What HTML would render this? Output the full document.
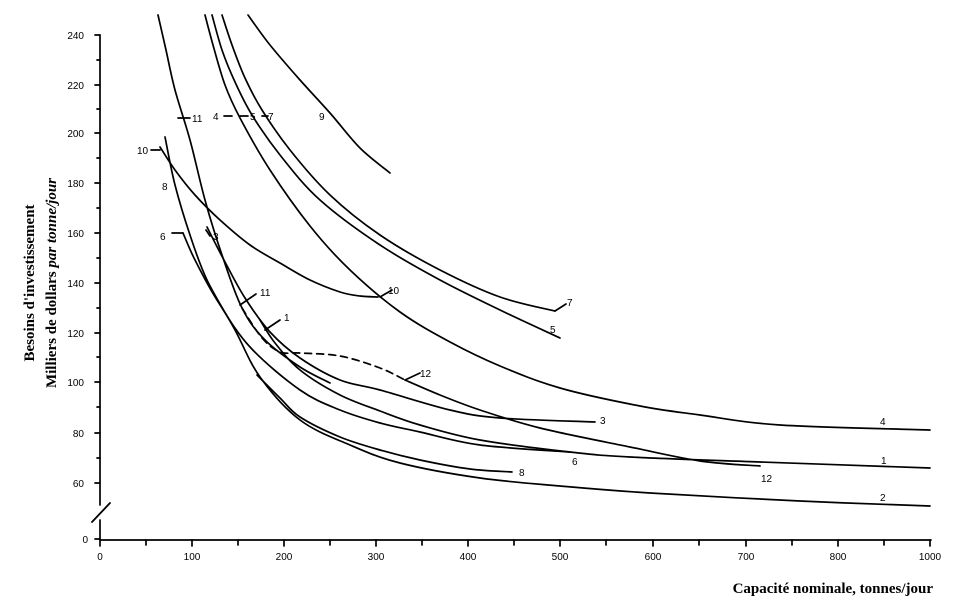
<!DOCTYPE html>
<html><head><meta charset="utf-8"><style>
html,body{margin:0;padding:0;background:#fff;}
svg{display:block;}
text{font-family:"Liberation Sans",sans-serif;font-size:10px;fill:#000;}
.t{font-family:"Liberation Serif",serif;font-weight:bold;font-size:15px;}
</style></head><body>
<svg id="c" width="960" height="610" viewBox="0 0 960 610" xmlns="http://www.w3.org/2000/svg">
<g fill="none" stroke="#000" stroke-width="1.7" stroke-linejoin="round" stroke-linecap="round">
<path d="M100,35 V505 M100,520 V540 H931"/>
<path d="M92,522 L110,503" stroke-width="1.8"/>
<path d="M95,35H100M95,85H100M95,133H100M95,183H100M95,233H100M95,283H100M95,333H100M95,382H100M95,433H100M95,483H100M95,539H100M97,60H100M97,109H100M97,158H100M97,208H100M97,258H100M97,308H100M97,357H100M97,407H100M97,458H100"/>
<path d="M100,540V546M146,540V545M192,540V546M238,540V545M284,540V546M330,540V545M376,540V546M422,540V545M468,540V546M514,540V545M560,540V546M606,540V545M653,540V546M699,540V545M746,540V546M792,540V545M838,540V546M884,540V545M930,540V546"/>
<polyline class="s" points="248,15 270,45 300,80 330,113 360,148 390,173"/>
<polyline class="s" points="222,15 232,45 245,78 262,110 290,150 330,195 380,235 440,270 500,297 555,311"/>
<polyline class="s" points="212,15 222,50 235,82 252,115 280,155 320,200 380,245 440,280 500,310 560,338"/>
<polyline class="s" points="205,15 213,45 225,85 240,118 270,170 310,226 350,270 400,312 450,342 500,366 560,388 640,406 700,415 780,425 930,430"/>
<polyline class="s" points="160,147 175,170 195,195 220,220 250,245 280,263 310,280 340,292 360,296 378,297"/>
<polyline class="s" points="158,15 166,50 175,90 190,140 205,200 222,255 242,308 265,340 300,367 330,383"/>
<polyline class="s" points="242,308 262,338 280,352 300,353 340,356 380,368 405,380" stroke-dasharray="7,5"/>
<polyline class="s" points="405,380 440,395 480,410 540,428 630,447 700,461 760,466"/>
<polyline class="s" points="207,227 225,262 245,298 270,332 300,358 340,380 380,390 450,410 500,418 595,422"/>
<polyline class="s" points="260,320 275,343 300,370 340,395 380,411 420,425 480,440 570,452 630,457 760,462 930,468"/>
<polyline class="s" points="183,233 195,260 217,300 250,347 300,390 340,410 380,423 420,432 480,445 570,452"/>
<polyline class="s" points="165,137 175,185 190,235 207,280 235,330 260,377 300,420 350,445 400,463 480,478 560,486 650,493 800,501 930,506"/>
<polyline class="s" points="257,375 280,398 300,417 340,437 380,450 420,460 470,469 512,472"/>
<path d="M178,118H190M224,116H232M240,116H248M262,116H268M151,150H160M172,233H183M210,236L206,230M240,305L256,294M265,330L280,320M380,297L392,290M405,380L420,373M555,311L566,304"/>
</g>
<g>
<text x="192" y="122">11</text><text x="213" y="120">4</text><text x="250" y="120">5</text><text x="268" y="120">7</text><text x="319" y="120">9</text>
<text x="137" y="154">10</text><text x="162" y="190">8</text><text x="160" y="240">6</text><text x="213" y="240">3</text>
<text x="260" y="296">11</text><text x="284" y="321">1</text><text x="388" y="294">10</text><text x="420" y="377">12</text>
<text x="567" y="306">7</text><text x="550" y="333">5</text><text x="600" y="424">3</text><text x="880" y="425">4</text>
<text x="572" y="465">6</text><text x="881" y="464">1</text><text x="519" y="476">8</text><text x="761" y="482">12</text><text x="880" y="501">2</text>
<text x="84" y="39" text-anchor="end">240</text><text x="84" y="89" text-anchor="end">220</text><text x="84" y="137" text-anchor="end">200</text>
<text x="84" y="187" text-anchor="end">180</text><text x="84" y="237" text-anchor="end">160</text><text x="84" y="287" text-anchor="end">140</text>
<text x="84" y="337" text-anchor="end">120</text><text x="84" y="386" text-anchor="end">100</text><text x="84" y="437" text-anchor="end">80</text>
<text x="84" y="487" text-anchor="end">60</text><text x="88" y="543" text-anchor="end">0</text>
<text x="100" y="560" text-anchor="middle">0</text><text x="192" y="560" text-anchor="middle">100</text><text x="284" y="560" text-anchor="middle">200</text>
<text x="376" y="560" text-anchor="middle">300</text><text x="468" y="560" text-anchor="middle">400</text><text x="560" y="560" text-anchor="middle">500</text>
<text x="653" y="560" text-anchor="middle">600</text><text x="746" y="560" text-anchor="middle">700</text><text x="838" y="560" text-anchor="middle">800</text>
<text x="930" y="560" text-anchor="middle">1000</text>
<text class="t" x="933" y="593" text-anchor="end">Capacité nominale, tonnes/jour</text>
<text class="t" transform="translate(34,283) rotate(-90)" text-anchor="middle">Besoins d'investissement</text>
<text class="t" transform="translate(56,283) rotate(-90)" text-anchor="middle">Milliers de dollars <tspan font-style="italic">par tonne/jour</tspan></text>
</g>
</svg>
<script>
document.querySelectorAll('polyline.s').forEach(function(pl){
  var p=pl.getAttribute('points').trim().split(/\s+/).map(function(s){return s.split(',').map(Number);});
  var d='M'+p[0][0]+','+p[0][1];
  for(var i=0;i<p.length-1;i++){
    var p0=p[i-1]||p[i],p1=p[i],p2=p[i+1],p3=p[i+2]||p2;
    var c1=[p1[0]+(p2[0]-p0[0])/6,p1[1]+(p2[1]-p0[1])/6];
    var c2=[p2[0]-(p3[0]-p1[0])/6,p2[1]-(p3[1]-p1[1])/6];
    d+=' C'+c1[0].toFixed(1)+','+c1[1].toFixed(1)+' '+c2[0].toFixed(1)+','+c2[1].toFixed(1)+' '+p2[0]+','+p2[1];
  }
  var np=document.createElementNS('http://www.w3.org/2000/svg','path');
  np.setAttribute('d',d);
  if(pl.getAttribute('stroke-dasharray'))np.setAttribute('stroke-dasharray',pl.getAttribute('stroke-dasharray'));
  pl.parentNode.replaceChild(np,pl);
});
</script>
</body></html>
